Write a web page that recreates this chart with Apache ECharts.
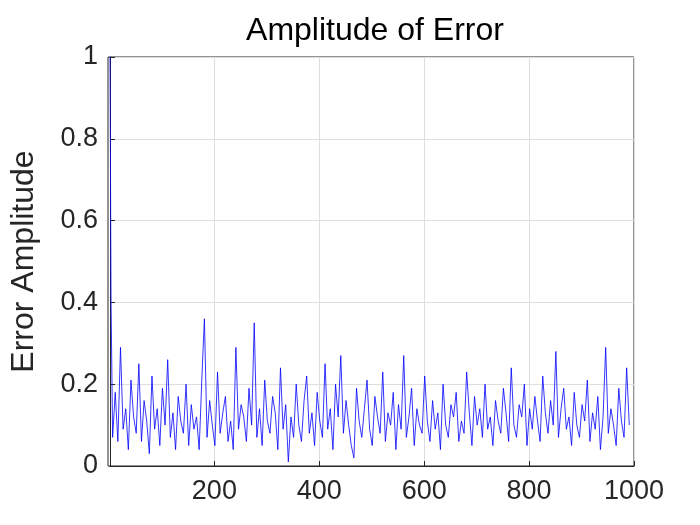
<!DOCTYPE html>
<html><head><meta charset="utf-8">
<script src="https://cdn.jsdelivr.net/npm/echarts@6/dist/echarts.min.js"></script>
<style>html,body{margin:0;background:#fff}#c{width:700px;height:525px}</style>
</head><body><div id="c"></div>
<script>
const xTicks = [200, 400, 600, 800, 1000];
const yTicks = [0, 0.2, 0.4, 0.6, 0.8, 1];
const sampleX = [1,3,6,11,16,21,26,31,36,41,46,51,56,61,66,71,76,81,86,91,96,101,106,111,116,121,126,131,136,141,146,151,156,161,166,171,176,181,186,191,196,201,206,211,216,221,226,231,236,241,246,251,256,261,266,271,276,281,286,291,296,301,306,311,316,321,326,331,336,341,346,351,356,361,366,371,376,381,386,391,396,401,406,411,416,421,426,431,436,441,446,451,456,461,466,471,476,481,486,491,496,501,506,511,516,521,526,531,536,541,546,551,556,561,566,571,576,581,586,591,596,601,606,611,616,621,626,631,636,641,646,651,656,661,666,671,676,681,686,691,696,701,706,711,716,721,726,731,736,741,746,751,756,761,766,771,776,781,786,791,796,801,806,811,816,821,826,831,836,841,846,851,856,861,866,871,876,881,886,891,896,901,906,911,916,921,926,931,936,941,946,951,956,961,966,971,976,981,986,991,996,1000];
const errorAmp = [1.0,0.4,0.07,0.18,0.06,0.29,0.09,0.14,0.04,0.21,0.12,0.08,0.25,0.06,0.16,0.11,0.03,0.22,0.09,0.14,0.05,0.19,0.1,0.26,0.07,0.13,0.04,0.17,0.11,0.08,0.2,0.05,0.15,0.09,0.12,0.04,0.21,0.36,0.07,0.16,0.1,0.05,0.23,0.08,0.13,0.17,0.06,0.11,0.04,0.29,0.09,0.15,0.12,0.06,0.19,0.1,0.35,0.07,0.14,0.05,0.21,0.11,0.08,0.17,0.13,0.04,0.24,0.09,0.15,0.01,0.12,0.07,0.2,0.1,0.06,0.16,0.22,0.08,0.13,0.05,0.18,0.11,0.07,0.25,0.09,0.14,0.04,0.2,0.12,0.27,0.08,0.16,0.1,0.05,0.02,0.19,0.11,0.07,0.14,0.21,0.09,0.05,0.17,0.12,0.08,0.23,0.06,0.13,0.1,0.18,0.04,0.15,0.09,0.27,0.07,0.12,0.19,0.05,0.14,0.1,0.08,0.22,0.11,0.06,0.16,0.09,0.13,0.04,0.2,0.1,0.07,0.15,0.12,0.18,0.06,0.11,0.08,0.23,0.13,0.05,0.17,0.1,0.14,0.07,0.2,0.09,0.12,0.05,0.16,0.11,0.08,0.19,0.13,0.06,0.24,0.1,0.07,0.15,0.12,0.2,0.05,0.14,0.09,0.17,0.11,0.06,0.22,0.13,0.08,0.16,0.1,0.28,0.07,0.14,0.19,0.09,0.12,0.05,0.18,0.1,0.07,0.15,0.11,0.21,0.06,0.13,0.09,0.17,0.04,0.12,0.29,0.08,0.14,0.1,0.05,0.19,0.11,0.07,0.24,0.1];
const chart = echarts.init(document.getElementById('c'));
const FONT = '"Liberation Sans", Arial, sans-serif';
const axisFont = {fontFamily:FONT, fontSize:27, color:'#262626'};
chart.setOption({
  animation:false,
  title:{text:'Amplitude of Error',left:370,top:10,textAlign:'center',textStyle:{fontFamily:FONT,fontSize:32,fontWeight:'normal',color:'#000'}},
  grid:{left:108,right:66,top:57,bottom:59},
  xAxis:{type:'value',min:1,max:1000,interval:200,
    axisLabel:Object.assign({margin:12,customValues:xTicks,formatter:v=>String(v)},axisFont),
    axisTick:{customValues:xTicks,inside:true,length:5,lineStyle:{color:'#262626'}},
    splitLine:{show:true,lineStyle:{color:'#dedede'}},
    axisLine:{onZero:false,lineStyle:{color:'#262626'}}},
  yAxis:{type:'value',min:0,max:1,interval:0.2,name:'Error Amplitude',nameLocation:'middle',nameGap:70,
    nameTextStyle:{fontFamily:FONT,fontSize:32,color:'#262626'},
    axisLabel:Object.assign({margin:12,formatter:v=>String(+v.toFixed(1))},axisFont),
    axisTick:{inside:true,length:5,lineStyle:{color:'#262626'}},
    splitLine:{show:true,lineStyle:{color:'#dedede'}},
    axisLine:{show:true,lineStyle:{color:'#262626'}}},
  graphic:[{type:'rect',shape:{x:108,y:57,width:526,height:409},style:{fill:'none',stroke:'#262626',lineWidth:1},silent:true}],
  series:[{type:'line',data:sampleX.map((x,i)=>[x,errorAmp[i]]),showSymbol:false,lineStyle:{color:'#0000ff',width:0.8}}]
});
</script></body></html>
